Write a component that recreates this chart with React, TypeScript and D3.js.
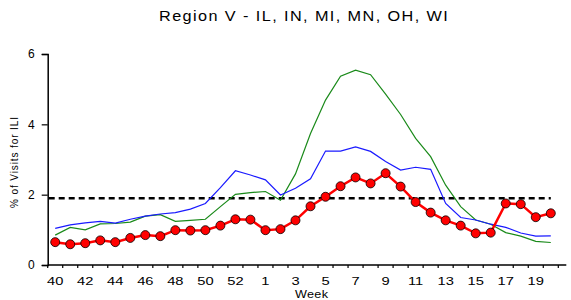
import React, { useEffect, useRef } from 'react'
import * as d3 from 'd3'

const weeks = [
  40, 41, 42, 43, 44, 45, 46, 47, 48, 49, 50, 51, 52, 53,
  1, 2, 3, 4, 5, 6, 7, 8, 9, 10, 11, 12, 13, 14, 15, 16, 17, 18, 19, 20,
]

// red series with markers
const currentSeason = [
  0.65, 0.59, 0.62, 0.7, 0.65, 0.77, 0.85, 0.82, 0.99, 0.98, 0.99, 1.12, 1.3, 1.29,
  0.99, 1.02, 1.27, 1.67, 1.94, 2.24, 2.49, 2.32, 2.61, 2.23, 1.79, 1.49, 1.27, 1.12,
  0.9, 0.92, 1.75, 1.73, 1.36, 1.47,
]

// blue line
const seasonBlue = [
  1.04, 1.14, 1.2, 1.24, 1.19, 1.3, 1.39, 1.45, 1.49, 1.59, 1.75, 2.2, 2.68, 2.56,
  2.42, 1.99, 2.18, 2.45, 3.24, 3.24, 3.36, 3.23, 2.94, 2.7, 2.78, 2.72, 1.75, 1.35,
  1.28, 1.16, 1.07, 0.91, 0.82, 0.83,
]

// green line
const seasonGreen = [
  0.85, 1.07, 1.0, 1.17, 1.18, 1.22, 1.39, 1.43, 1.24, 1.27, 1.3, 1.66, 2.01, 2.06,
  2.09, 1.84, 2.59, 3.74, 4.69, 5.37, 5.54, 5.41, 4.86, 4.28, 3.6, 3.08, 2.27, 1.66,
  1.28, 1.16, 0.92, 0.82, 0.67, 0.64,
]

const baseline = 1.9
const yTicks = [0, 2, 4, 6]

const App = () => {
  const ref = useRef<SVGSVGElement>(null)

  useEffect(() => {
    const width = 571
    const height = 300
    const left = 47.7
    const right = 558.3
    const top = 54
    const bottom = 265
    const font = 'Liberation Sans, Arial, sans-serif'

    const svg = d3.select(ref.current)
    svg.selectAll('*').remove()
    svg.attr('width', width).attr('height', height)

    const x = d3
      .scaleBand<number>()
      .domain(d3.range(weeks.length))
      .range([left, right])
    const cx = (i: number) => (x(i) as number) + x.bandwidth() / 2
    const y = d3.scaleLinear().domain([0, 6]).range([bottom, top])

    // title, the source renders its text a bit stretched
    svg
      .append('text')
      .attr('transform', 'translate(159,21) scale(1.16,1)')
      .attr('textLength', 249)
      .attr('lengthAdjust', 'spacing')
      .style('font-family', font)
      .style('font-size', '14px')
      .text('Region V - IL, IN, MI, MN, OH, WI')

    // y axis
    const yAxis = d3
      .axisLeft(y)
      .tickValues(yTicks)
      .tickFormat(d3.format('d'))
      .tickSize(6)
      .tickPadding(7)
    const gy = svg.append('g').attr('transform', `translate(${left},0)`).call(yAxis)
    gy.select('.domain').attr('stroke', '#000').attr('stroke-width', 1.5)
    gy.selectAll('.tick line').attr('stroke-width', 1.2)
    gy.selectAll('.tick text')
      .style('font-family', font)
      .style('font-size', '12px')
      .attr('fill', '#000')

    // x axis: ticks at band edges, labels at every other band center
    const edges = d3.range(weeks.length + 1).map((i) =>
      i < weeks.length ? (x(i) as number) : right,
    )
    const gx = svg.append('g')
    gx.append('line')
      .attr('x1', left)
      .attr('x2', right + 8)
      .attr('y1', bottom)
      .attr('y2', bottom)
      .attr('stroke', '#000')
      .attr('stroke-width', 1.5)
    gx.selectAll('line.tk')
      .data(edges)
      .enter()
      .append('line')
      .attr('class', 'tk')
      .attr('x1', (d) => d)
      .attr('x2', (d) => d)
      .attr('y1', bottom)
      .attr('y2', bottom + 3)
      .attr('stroke', '#000')
      .attr('stroke-width', 1.2)
    gx.selectAll('text')
      .data(d3.range(0, weeks.length, 2))
      .enter()
      .append('text')
      .attr('transform', (i) => `translate(${cx(i)},285) scale(1.4,1)`)
      .attr('text-anchor', 'middle')
      .style('font-family', font)
      .style('font-size', '10.5px')
      .text((i) => weeks[i])

    svg
      .append('text')
      .attr('transform', 'translate(295,298) scale(1.15,1)')
      .attr('textLength', 28.7)
      .attr('lengthAdjust', 'spacing')
      .style('font-family', font)
      .style('font-size', '11px')
      .text('Week')

    svg
      .append('text')
      .attr('transform', 'translate(18,208) rotate(-90)')
      .attr('textLength', 91)
      .attr('lengthAdjust', 'spacing')
      .style('font-family', font)
      .style('font-size', '10px')
      .text('% of Visits for ILI')

    // baseline
    svg
      .append('line')
      .attr('x1', left + 1)
      .attr('x2', cx(weeks.length - 1))
      .attr('y1', y(baseline))
      .attr('y2', y(baseline))
      .attr('stroke', '#000')
      .attr('stroke-width', 2.5)
      .attr('stroke-dasharray', '6,4')

    const line = d3
      .line<number>()
      .x((_, i) => cx(i))
      .y((d) => y(d))

    svg
      .append('path')
      .attr('d', line(seasonGreen))
      .attr('fill', 'none')
      .attr('stroke', '#1a8a1a')
      .attr('stroke-width', 1.2)

    svg
      .append('path')
      .attr('d', line(seasonBlue))
      .attr('fill', 'none')
      .attr('stroke', '#1a1aff')
      .attr('stroke-width', 1.2)

    svg
      .append('path')
      .attr('d', line(currentSeason))
      .attr('fill', 'none')
      .attr('stroke', '#ff0000')
      .attr('stroke-width', 2.5)

    svg
      .append('g')
      .selectAll('circle')
      .data(currentSeason)
      .enter()
      .append('circle')
      .attr('cx', (_, i) => cx(i))
      .attr('cy', (d) => y(d))
      .attr('r', 4.5)
      .attr('fill', '#ff0000')
      .attr('stroke', '#000')
      .attr('stroke-width', 0.8)
  }, [])

  return (
    <div style={{ position: 'absolute', left: 0, top: 0 }}>
      <svg ref={ref} style={{ display: 'block' }}></svg>
    </div>
  )
}

export default App
